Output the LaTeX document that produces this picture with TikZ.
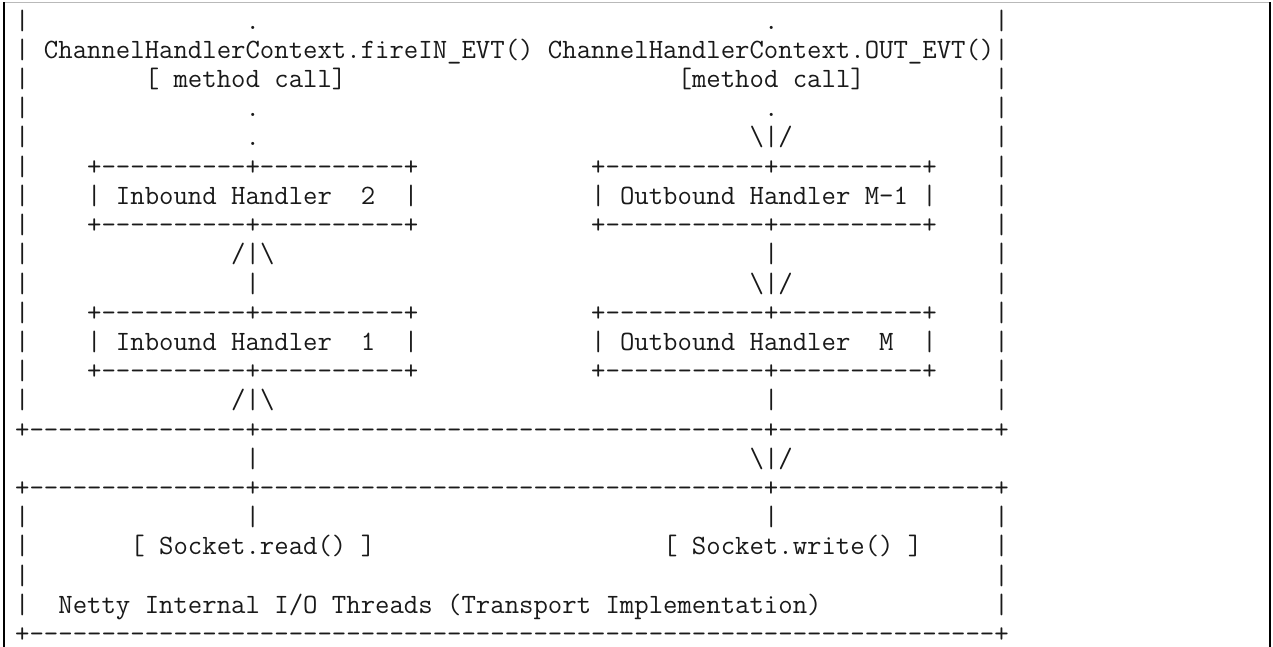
\documentclass[tikz,border=0pt]{standalone}
\usepackage{fontspec}
\setmonofont{Latin Modern Mono}
\frenchspacing

\newlength\charw
\setlength\charw{7.2pt}
\newlength\ttsize
\newlength\charmeasure
\newcommand\asciigap[1]{\hspace*{#1\charw}}
\ExplSyntaxOn
\cs_new:Npn \asciidash #1 { \prg_replicate:nn {#1} {-} }
\ExplSyntaxOff

\begin{document}
% font size that gives one character the width \charw
\settowidth\charmeasure{\ttfamily\fontsize{13.714pt}{14.6pt}\selectfont M}%
\setlength\ttsize{\dimexpr 13.714pt*471859/\charmeasure\relax}%
\begin{tikzpicture}[
    x=7.2pt, y=-14.6pt,
    row/.style={
        inner sep=0pt,
        anchor=base west,
        text=black!90,
        font=\ttfamily\fontsize{\the\ttsize}{14.6pt}\selectfont
    },
    frame/.style={
        line width=0.6pt
    }
    ]
    \useasboundingbox (-7.4pt,0pt) rectangle (629.1pt,-323.5pt);

    \coordinate (frame_tl) at (-5.4pt,-1.25pt);
    \coordinate (frame_tr) at (627.6pt,-1.25pt);
    \coordinate (frame_bl) at (-5.4pt,-324pt);
    \coordinate (frame_br) at (627.6pt,-324pt);
    \draw[gray!55, line width=0.5pt] (frame_tl) -- (frame_tr);
    \draw[frame] (frame_tl) -- (frame_bl);
    \draw[frame] (frame_tr) -- (frame_br);

    \node[row] (row_1) at (0,1) {|\asciigap{15}.\asciigap{35}.\asciigap{15}|};
    \node[row] (row_2) at (0,2) {| ChannelHandlerContext.fireIN\_EVT() ChannelHandlerContext.OUT\_EVT()|};
    \node[row] (row_3) at (0,3) {|\asciigap{8}[ method call]\asciigap{23}[method call]\asciigap{9}|};
    \node[row] (row_4) at (0,4) {|\asciigap{15}.\asciigap{35}.\asciigap{15}|};
    \node[row] (row_5) at (0,5) {|\asciigap{15}.\asciigap{34}\textbackslash|/\asciigap{14}|};
    \node[row] (row_6) at (0,6) {|\asciigap{4}+\asciidash{10}+\asciidash{10}+\asciigap{12}+\asciidash{11}+\asciidash{10}+\asciigap{4}|};
    \node[row] (row_7) at (0,7) {|\asciigap{4}| Inbound Handler\asciigap{2}2\asciigap{2}|\asciigap{12}| Outbound Handler M-1 |\asciigap{4}|};
    \node[row] (row_8) at (0,8) {|\asciigap{4}+\asciidash{10}+\asciidash{10}+\asciigap{12}+\asciidash{11}+\asciidash{10}+\asciigap{4}|};
    \node[row] (row_9) at (0,9) {|\asciigap{14}/|\textbackslash\asciigap{34}|\asciigap{15}|};
    \node[row] (row_10) at (0,10) {|\asciigap{15}|\asciigap{34}\textbackslash|/\asciigap{14}|};
    \node[row] (row_11) at (0,11) {|\asciigap{4}+\asciidash{10}+\asciidash{10}+\asciigap{12}+\asciidash{11}+\asciidash{10}+\asciigap{4}|};
    \node[row] (row_12) at (0,12) {|\asciigap{4}| Inbound Handler\asciigap{2}1\asciigap{2}|\asciigap{12}| Outbound Handler\asciigap{2}M\asciigap{2}|\asciigap{4}|};
    \node[row] (row_13) at (0,13) {|\asciigap{4}+\asciidash{10}+\asciidash{10}+\asciigap{12}+\asciidash{11}+\asciidash{10}+\asciigap{4}|};
    \node[row] (row_14) at (0,14) {|\asciigap{14}/|\textbackslash\asciigap{34}|\asciigap{15}|};
    \node[row] (row_15) at (0,15) {+\asciidash{15}+\asciidash{35}+\asciidash{15}+};
    \node[row] (row_16) at (0,16) {\asciigap{16}|\asciigap{34}\textbackslash|/};
    \node[row] (row_17) at (0,17) {+\asciidash{15}+\asciidash{35}+\asciidash{15}+};
    \node[row] (row_18) at (0,18) {|\asciigap{15}|\asciigap{35}|\asciigap{15}|};
    \node[row] (row_19) at (0,19) {|\asciigap{7}[ Socket.read() ]\asciigap{20}[ Socket.write() ]\asciigap{5}|};
    \node[row] (row_20) at (0,20) {|\asciigap{67}|};
    \node[row] (row_21) at (0,21) {|\asciigap{2}Netty Internal I/O Threads (Transport Implementation)\asciigap{12}|};
    \node[row] (row_22) at (0,22) {+\asciidash{67}+};
\end{tikzpicture}
\end{document}
